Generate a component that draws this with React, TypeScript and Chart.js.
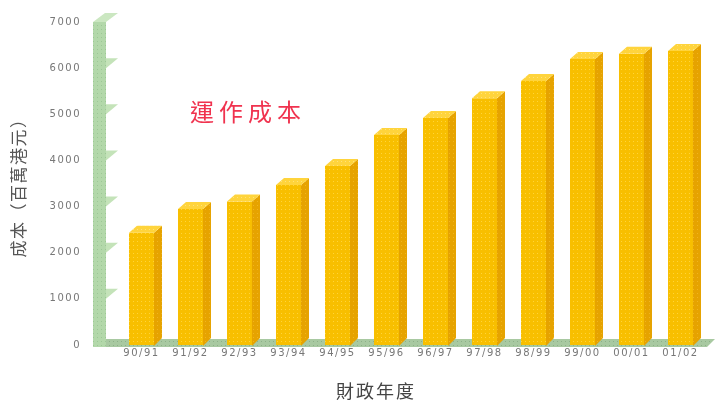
import React, { useEffect, useRef } from "react";
import { Chart, registerables } from "chart.js";

Chart.register(...registerables);

const categories = ["90/91", "91/92", "92/93", "93/94", "94/95", "95/96", "96/97", "97/98", "98/99", "99/00", "00/01", "01/02"];
const costValues = [2430, 2950, 3110, 3470, 3880, 4550, 4920, 5350, 5720, 6200, 6310, 6370];
const yTickValues = [0, 1000, 2000, 3000, 4000, 5000, 6000, 7000];
const chartTitle = "運作成本";
const yAxisTitle = "成本（百萬港元）";
const xAxisTitle = "財政年度";

const DX = 8;
const DY = 7;

function makePattern(base: string, dot: string, size = 4): CanvasPattern | string {
  const c = document.createElement("canvas");
  c.width = size;
  c.height = size;
  const g = c.getContext("2d");
  if (!g) return base;
  g.fillStyle = base;
  g.fillRect(0, 0, size, size);
  g.fillStyle = dot;
  g.fillRect(1, 1, 1, 1);
  const p = g.createPattern(c, "repeat");
  return p || base;
}

const threeDPlugin = {
  id: "threeD",
  beforeDraw(chart: any) {
    (chart.ctx as any).letterSpacing = "1.5px";
  },
  beforeDatasetsDraw(chart: any) {
    const { ctx, chartArea, scales } = chart;
    const y = scales.y;
    (ctx as any).letterSpacing = "0px";
    const base = y.getPixelForValue(0);
    const top = y.getPixelForValue(7000);
    const wl = chartArea.left - 24;
    const wr = chartArea.left - 11;
    ctx.save();
    // floor
    ctx.fillStyle = makePattern("#A8C9A1", "#8DB088");
    ctx.beginPath();
    ctx.moveTo(wl, base + 2);
    ctx.lineTo(chartArea.right + 2, base + 2);
    ctx.lineTo(chartArea.right + 10, base - 6);
    ctx.lineTo(wr, base - 6);
    ctx.closePath();
    ctx.fill();
    // wall front
    ctx.fillStyle = makePattern("#B3D8AA", "#9CC795");
    ctx.fillRect(wl, top, wr - wl, base + 2 - top);
    // wall cap
    ctx.fillStyle = "#CBE7C1";
    ctx.beginPath();
    ctx.moveTo(wl, top);
    ctx.lineTo(wr, top);
    ctx.lineTo(wr + 12, top - 9);
    ctx.lineTo(wl + 12, top - 9);
    ctx.closePath();
    ctx.fill();
    // shelves at ticks
    ctx.fillStyle = "#C4E3B9";
    yTickValues.forEach((v) => {
      if (v === 0 || v === 7000) return;
      const ty = y.getPixelForValue(v);
      ctx.beginPath();
      ctx.moveTo(wr, ty);
      ctx.lineTo(wr + 12, ty - 10);
      ctx.lineTo(wr, ty - 10);
      ctx.closePath();
      ctx.fill();
    });
    ctx.restore();
  },
  afterDatasetsDraw(chart: any) {
    const { ctx } = chart;
    const meta = chart.getDatasetMeta(0);
    ctx.save();
    meta.data.forEach((bar: any) => {
      const { x, y, base, width } = bar.getProps(["x", "y", "base", "width"], true);
      const l = x - width / 2;
      const r = x + width / 2;
      ctx.fillStyle = makePattern("#E6A300", "#F0B520");
      ctx.beginPath();
      ctx.moveTo(r, y);
      ctx.lineTo(r + DX, y - DY);
      ctx.lineTo(r + DX, base - DY);
      ctx.lineTo(r, base + 1);
      ctx.closePath();
      ctx.fill();
      ctx.fillStyle = makePattern("#FFD43C", "#FFE27A");
      ctx.beginPath();
      ctx.moveTo(l, y);
      ctx.lineTo(l + DX, y - DY);
      ctx.lineTo(r + DX, y - DY);
      ctx.lineTo(r, y);
      ctx.closePath();
      ctx.fill();
    });
    ctx.restore();
    (ctx as any).letterSpacing = "1.5px";
  },
  afterDraw(chart: any) {
    const { ctx } = chart;
    ctx.save();
    (ctx as any).letterSpacing = "5px";
    ctx.fillStyle = "#F0334F";
    ctx.font = '24px "Noto Sans CJK TC"';
    ctx.textAlign = "left";
    ctx.textBaseline = "middle";
    ctx.fillText(chartTitle, 190, 112);
    (ctx as any).letterSpacing = "2px";
    ctx.fillStyle = "#444";
    ctx.font = '18px "Noto Sans CJK TC"';
    ctx.textAlign = "center";
    ctx.fillText(xAxisTitle, 376, 391);
    ctx.restore();
    (ctx as any).letterSpacing = "0px";
  },
};

export default function App() {
  const ref = useRef<HTMLCanvasElement | null>(null);
  useEffect(() => {
    if (!ref.current) return;
    const frontPattern = makePattern("#F8BF00", "#FFD43A");
    const chart = new Chart(ref.current, {
      type: "bar",
      data: {
        labels: categories,
        datasets: [
          {
            data: costValues,
            backgroundColor: frontPattern as any,
            borderWidth: 0,
            barPercentage: 0.51,
            categoryPercentage: 1,
          },
        ],
      },
      options: {
        animation: false,
        responsive: true,
        maintainAspectRatio: false,
        layout: { padding: { top: 22, right: 11, left: 0, bottom: 0 } },
        plugins: { legend: { display: false }, tooltip: { enabled: false } },
        scales: {
          x: {
            grid: { display: false, drawTicks: false },
            border: { display: false },
            ticks: { color: "#777", font: { family: "DejaVu Sans", size: 10 }, padding: 2, maxRotation: 0, autoSkip: false },
            afterFit: (s: any) => {
              s.height = 57;
            },
          },
          y: {
            min: 0,
            max: 7000,
            grid: { display: false, drawTicks: false },
            border: { display: false },
            afterBuildTicks: (s: any) => {
              s.ticks = yTickValues.map((v) => ({ value: v }));
            },
            ticks: {
              color: "#777",
              font: { family: "DejaVu Sans", size: 10 },
              padding: 36,
              callback: (v: any) => String(v),
            },
            title: {
              display: true,
              text: yAxisTitle,
              color: "#555",
              font: { family: "Noto Sans CJK TC", size: 17 },
              padding: { top: 8, bottom: 0 },
            },
            afterFit: (s: any) => {
              s.width = 117;
              s.paddingTop = 0;
              s.paddingBottom = 0;
            },
          },
        },
      },
      plugins: [threeDPlugin],
    });
    return () => chart.destroy();
  }, []);
  return (
    <div style={{ position: "fixed", left: 0, top: 0, width: 716, height: 402, background: "#fff" }}>
      <canvas ref={ref} />
    </div>
  );
}
